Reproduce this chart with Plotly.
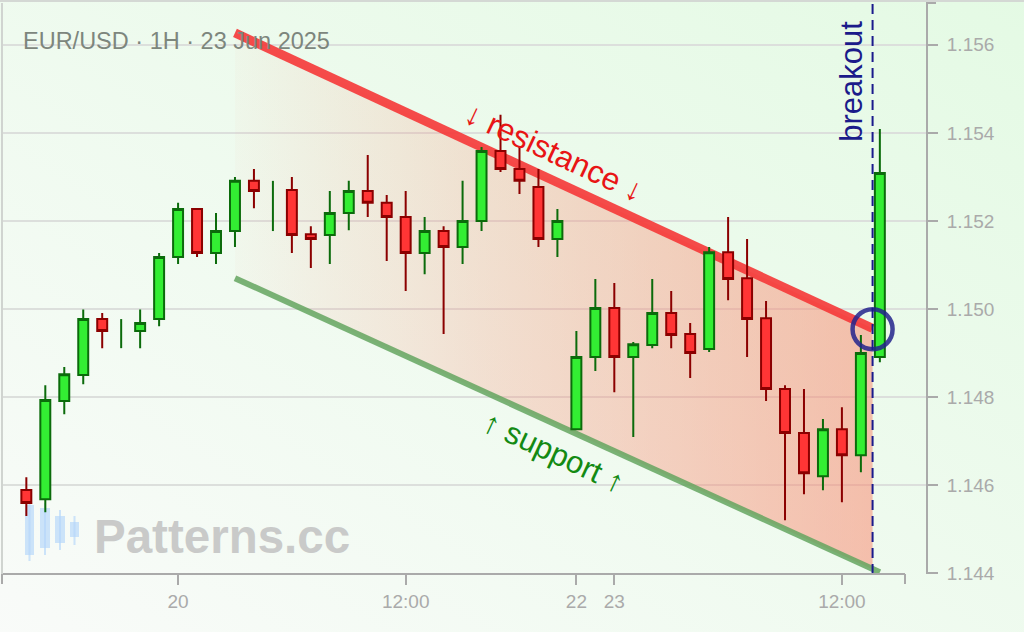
#!/usr/bin/env python3
"""EUR/USD 1H descending channel breakout chart."""

import base64

import pandas as pd
import plotly.graph_objects as go

# --- data -------------------------------------------------------------------
# two trading sessions (Friday close -> Sunday reopen)
SESSION_1 = ("2025-06-19 16:00", "2025-06-20 20:00")
SESSION_2 = ("2025-06-22 22:00", "2025-06-23 14:00")

OPEN = [
    1.14589, 1.14568, 1.14791, 1.14850, 1.14977, 1.14950, 1.14950, 1.14977,
    1.15118, 1.15227, 1.15127, 1.15177, 1.15291, 1.15232, 1.15270, 1.15170,
    1.15168, 1.15218, 1.15268, 1.15241, 1.15209, 1.15127, 1.15177, 1.15141,
    1.15200, 1.15359, 1.15318, 1.15277, 1.15159,
    1.14727, 1.14891, 1.15002, 1.14891, 1.14918, 1.14991, 1.14943, 1.14909,
    1.15129, 1.15070, 1.14979, 1.14818, 1.14718, 1.14620, 1.14727, 1.14668,
    1.14891,
]
HIGH = [
    1.14618, 1.14827, 1.14868, 1.14999, 1.14991, 1.14977, 1.14999, 1.15127,
    1.15241, 1.15227, 1.15218, 1.15300, 1.15318, 1.15291, 1.15300, 1.15188,
    1.15268, 1.15291, 1.15350, 1.15259, 1.15268, 1.15209, 1.15188, 1.15291,
    1.15368, 1.15441, 1.15368, 1.15318, 1.15227,
    1.14950, 1.15068, 1.15059, 1.14925, 1.15068, 1.15041, 1.14968, 1.15141,
    1.15209, 1.15159, 1.15018, 1.14827, 1.14818, 1.14750, 1.14777, 1.14941,
    1.15409,
]
LOW = [
    1.14530, 1.14538, 1.14761, 1.14829, 1.14911, 1.14911, 1.14911, 1.14961,
    1.15102, 1.15118, 1.15102, 1.15141, 1.15229, 1.15177, 1.15127, 1.15093,
    1.15102, 1.15179, 1.15209, 1.15109, 1.15041, 1.15079, 1.14943, 1.15102,
    1.15177, 1.15311, 1.15261, 1.15141, 1.15118,
    1.14725, 1.14859, 1.14811, 1.14709, 1.14911, 1.14911, 1.14843, 1.14902,
    1.15020, 1.14891, 1.14791, 1.14520, 1.14579, 1.14588, 1.14561, 1.14629,
    1.14879,
]
CLOSE = [
    1.14559, 1.14793, 1.14852, 1.14977, 1.14950, 1.14950, 1.14968, 1.15118,
    1.15227, 1.15127, 1.15177, 1.15291, 1.15268, 1.15232, 1.15168, 1.15159,
    1.15218, 1.15268, 1.15241, 1.15209, 1.15127, 1.15177, 1.15141, 1.15200,
    1.15359, 1.15318, 1.15291, 1.15159, 1.15200,
    1.14891, 1.15002, 1.14891, 1.14920, 1.14991, 1.14941, 1.14900, 1.15129,
    1.15068, 1.14977, 1.14818, 1.14718, 1.14627, 1.14727, 1.14668, 1.14900,
    1.15309,
]

# channel lines
RES_X = ["2025-06-20 03:00", "2025-06-23 13:37"]
RES_Y = [1.15627, 1.14956]
SUP_X = ["2025-06-20 03:00", "2025-06-23 14:00"]
SUP_Y = [1.15070, 1.14402]
# shaded channel (resistance edge + support edge up to breakout)
FILL_X = ["2025-06-20 03:00", "2025-06-23 13:37", "2025-06-23 13:37", "2025-06-20 03:00"]
FILL_Y = [1.15627, 1.14956, 1.14409, 1.15070]

BREAKOUT_X = "2025-06-23 13:37"
BREAKOUT_Y = 1.14954

X_RANGE = ["2025-06-19 14:43", "2025-06-23 16:26"]
Y_RANGE = [1.14398, 1.15695]
WEEKEND = dict(values=["2025-06-20 21:00"], dvalue=49 * 3600 * 1000)
X_TICKVALS = ["2025-06-20 00:00", "2025-06-20 12:00", "2025-06-22 22:00",
              "2025-06-23 00:00", "2025-06-23 12:00"]
X_TICKTEXT = ["20", "12:00", "22", "23", "12:00"]
Y_TICKVALS = [1.144, 1.146, 1.148, 1.150, 1.152, 1.154, 1.156]

FONT = "Liberation Sans, Arial, sans-serif"
AXIS_GREY = "#aaaaaa"
UP_LINE, UP_FILL = "#0b6b0b", "#33ee33"
DN_LINE, DN_FILL = "#8b0000", "#ff3535"

# plot box in pixels (for paper-space decorations)
PX_L, PX_R, PX_T, PX_B = 2, 926, 3, 574


def _px(x, y):
    return (x - PX_L) / (PX_R - PX_L), (PX_B - y) / (PX_B - PX_T)


def _background_image() -> dict:
    svg = (
        '<svg xmlns="http://www.w3.org/2000/svg" width="100" height="100">'
        '<defs><linearGradient id="g" x1="0" y1="1" x2="1" y2="0">'
        '<stop offset="0" stop-color="#f9fbf9"/>'
        '<stop offset="1" stop-color="#e4fae4"/>'
        '</linearGradient></defs>'
        '<rect width="100" height="100" fill="url(#g)"/></svg>'
    )
    src = "data:image/svg+xml;base64," + base64.b64encode(svg.encode()).decode()
    return dict(
        source=src, xref="paper", yref="paper", x=-0.01, y=1.02,
        sizex=1.13, sizey=1.14, sizing="stretch", xanchor="left",
        yanchor="top", layer="below",
    )


def _hidden_axis(**kw) -> dict:
    # kept "visible" so rangebreaks still apply, but nothing is drawn
    return dict(showticklabels=False, ticks="", showgrid=False, showline=False,
                zeroline=False, **kw)


def build_figure() -> go.Figure:
    times = list(pd.date_range(*SESSION_1, freq="1h")) + list(
        pd.date_range(*SESSION_2, freq="1h")
    )

    # doji bars (open == close) are drawn as plain wicks
    doji = [o == c for o, c in zip(OPEN, CLOSE)]
    keep = lambda vals: [None if d else v for v, d in zip(vals, doji)]
    doji_x, doji_y = [], []
    for t, h, l, d in zip(times, HIGH, LOW, doji):
        if d:
            doji_x += [t, t, None]
            doji_y += [l, h, None]

    fig = go.Figure()

    # channel (main subplot, drawn underneath)
    fig.add_trace(go.Scatter(
        x=FILL_X, y=FILL_Y, mode="none", fill="toself",
        fillgradient=dict(
            type="horizontal",
            colorscale=[[0, "rgba(250,130,104,0.03)"],
                        [0.5, "rgba(250,130,104,0.28)"],
                        [1, "rgba(250,130,104,0.5)"]],
        ),
        hoverinfo="skip", showlegend=False,
    ))
    fig.add_trace(go.Scatter(
        x=SUP_X, y=SUP_Y, mode="lines",
        line=dict(color="rgba(100,165,95,0.85)", width=6),
        hoverinfo="skip", showlegend=False,
    ))
    fig.add_trace(go.Scatter(
        x=RES_X, y=RES_Y, mode="lines",
        line=dict(color="rgba(245,55,55,0.9)", width=9),
        hoverinfo="skip", showlegend=False,
    ))

    # candles on an overlaying subplot so they sit above the channel
    fig.add_trace(go.Candlestick(
        x=times, open=keep(OPEN), high=keep(HIGH), low=keep(LOW),
        close=keep(CLOSE),
        increasing=dict(line=dict(color=UP_LINE, width=2), fillcolor=UP_FILL),
        decreasing=dict(line=dict(color=DN_LINE, width=2), fillcolor=DN_FILL),
        whiskerwidth=0, showlegend=False, xaxis="x2", yaxis="y2",
    ))
    fig.add_trace(go.Scatter(
        x=doji_x, y=doji_y, mode="lines", line=dict(color=UP_LINE, width=2),
        hoverinfo="skip", showlegend=False, xaxis="x2", yaxis="y2",
    ))

    fig.add_trace(go.Scatter(
        x=[BREAKOUT_X], y=[BREAKOUT_Y], mode="markers",
        marker=dict(symbol="circle-open", size=40, color="rgba(35,35,140,0.85)",
                    line=dict(width=4.5)),
        hoverinfo="skip", showlegend=False, xaxis="x2", yaxis="y2",
    ))

    shapes = []
    # breakout marker line
    shapes.append(dict(
        type="line", xref="x", yref="paper", x0=BREAKOUT_X, x1=BREAKOUT_X,
        y0=0, y1=1, line=dict(color="#1a1a8c", width=2, dash="10px,6px"),
        layer="above",
    ))
    # bottom axis line with end caps, top cap on price axis
    x_end, _ = _px(905, 0)
    cap = 10 / (PX_B - PX_T)
    shapes.append(dict(type="line", xref="paper", yref="paper", x0=0, x1=x_end,
                       y0=0, y1=0, line=dict(color=AXIS_GREY, width=2)))
    for xe in (0, x_end):
        shapes.append(dict(type="line", xref="paper", yref="paper", x0=xe, x1=xe,
                           y0=0, y1=-cap, line=dict(color=AXIS_GREY, width=2)))
    shapes.append(dict(type="line", xref="paper", yref="paper", x0=1,
                       x1=1 + 10 / (PX_R - PX_L), y0=1, y1=1,
                       line=dict(color=AXIS_GREY, width=2)))
    # left frame line + top border
    shapes.append(dict(type="line", xref="paper", yref="paper", x0=0, x1=0,
                       y0=0, y1=1, line=dict(color="#d0d4d0", width=2)))
    shapes.append(dict(type="line", xref="paper", yref="paper", x0=-0.01, x1=1.12,
                       y0=1 + 2 / (PX_B - PX_T), y1=1 + 2 / (PX_B - PX_T),
                       line=dict(color="#d4d8d4", width=2)))

    # watermark candle icon
    icon = [(25, 34, 505, 555, 500, 561), (40, 50, 508, 548, 503, 555),
            (55, 65, 516, 543, 510, 550), (70, 79, 522, 537, 516, 545)]
    for bx0, bx1, by0, by1, wy0, wy1 in icon:
        xa, ya = _px(bx0, by1)
        xb, yb = _px(bx1, by0)
        shapes.append(dict(type="rect", xref="paper", yref="paper",
                           x0=xa, x1=xb, y0=ya, y1=yb, layer="below",
                           fillcolor="rgba(180,214,250,0.65)", line=dict(width=0)))
        xm, wa = _px((bx0 + bx1) / 2, wy1)
        _, wb = _px(0, wy0)
        shapes.append(dict(type="line", xref="paper", yref="paper",
                           x0=xm, x1=xm, y0=wa, y1=wb, layer="below",
                           line=dict(color="rgba(180,214,250,0.65)", width=2)))

    tx, ty = _px(21, 41)
    wx, wy = _px(92, 536)
    annotations = [
        dict(text="EUR/USD · 1H · 23 Jun 2025", xref="paper", yref="paper",
             x=tx, y=ty, xanchor="left", yanchor="middle", showarrow=False,
             font=dict(family=FONT, size=23.5, color="#7d867d")),
        dict(text="<b>Patterns.cc</b>", xref="paper", yref="paper",
             x=wx, y=wy, xanchor="left", yanchor="middle", showarrow=False,
             font=dict(family=FONT, size=47.5, color="#c9cac9")),
        dict(text="↓ resistance ↓", x="2025-06-20 19:50", y=1.15357,
             textangle=25, showarrow=False,
             font=dict(family=FONT, size=31.5, color="#e81515")),
        dict(text="↑ support ↑", x="2025-06-20 19:50", y=1.14675,
             textangle=25, showarrow=False,
             font=dict(family=FONT, size=31, color="#138a13")),
        dict(text="breakout", x="2025-06-23 12:32", y=1.15516,
             textangle=-90, showarrow=False,
             font=dict(family=FONT, size=31, color="#1b1b8a")),
    ]

    fig.update_layout(
        width=1024,
        height=632,
        margin=dict(l=PX_L, r=1024 - PX_R, t=PX_T, b=632 - PX_B),
        paper_bgcolor="#f1fbf1",
        plot_bgcolor="rgba(0,0,0,0)",
        images=[_background_image()],
        shapes=shapes,
        annotations=annotations,
        boxgap=0.25,
        showlegend=False,
        font=dict(family=FONT),
        xaxis=dict(
            type="date",
            range=X_RANGE,
            rangebreaks=[WEEKEND],
            rangeslider=dict(visible=False),
            tickmode="array",
            tickvals=X_TICKVALS,
            ticktext=X_TICKTEXT,
            ticks="outside",
            ticklen=10,
            tickwidth=2,
            tickcolor=AXIS_GREY,
            tickfont=dict(family=FONT, size=19, color=AXIS_GREY),
            showgrid=False,
            showline=False,
            zeroline=False,
        ),
        yaxis=dict(
            range=Y_RANGE,
            side="right",
            tickmode="array",
            tickvals=Y_TICKVALS,
            tickformat=".3f",
            ticks="outside",
            ticklen=10,
            tickwidth=2,
            tickcolor=AXIS_GREY,
            ticklabelstandoff=5,
            tickfont=dict(family=FONT, size=19, color=AXIS_GREY),
            showline=True,
            linecolor=AXIS_GREY,
            linewidth=2,
            showgrid=True,
            gridcolor="#dcdfdc",
            gridwidth=1.5,
            zeroline=False,
        ),
        xaxis2=_hidden_axis(
            type="date", overlaying="x", range=X_RANGE, rangebreaks=[WEEKEND],
            rangeslider=dict(visible=False),
        ),
        yaxis2=_hidden_axis(overlaying="y", range=Y_RANGE, side="right"),
    )
    return fig


def main() -> None:
    fig = build_figure()
    fig.write_html(
        "out.html",
        config={"displayModeBar": False},
        post_script="document.body.style.margin='0';"
                    "document.body.style.overflow='hidden';",
    )


if __name__ == "__main__":
    main()
